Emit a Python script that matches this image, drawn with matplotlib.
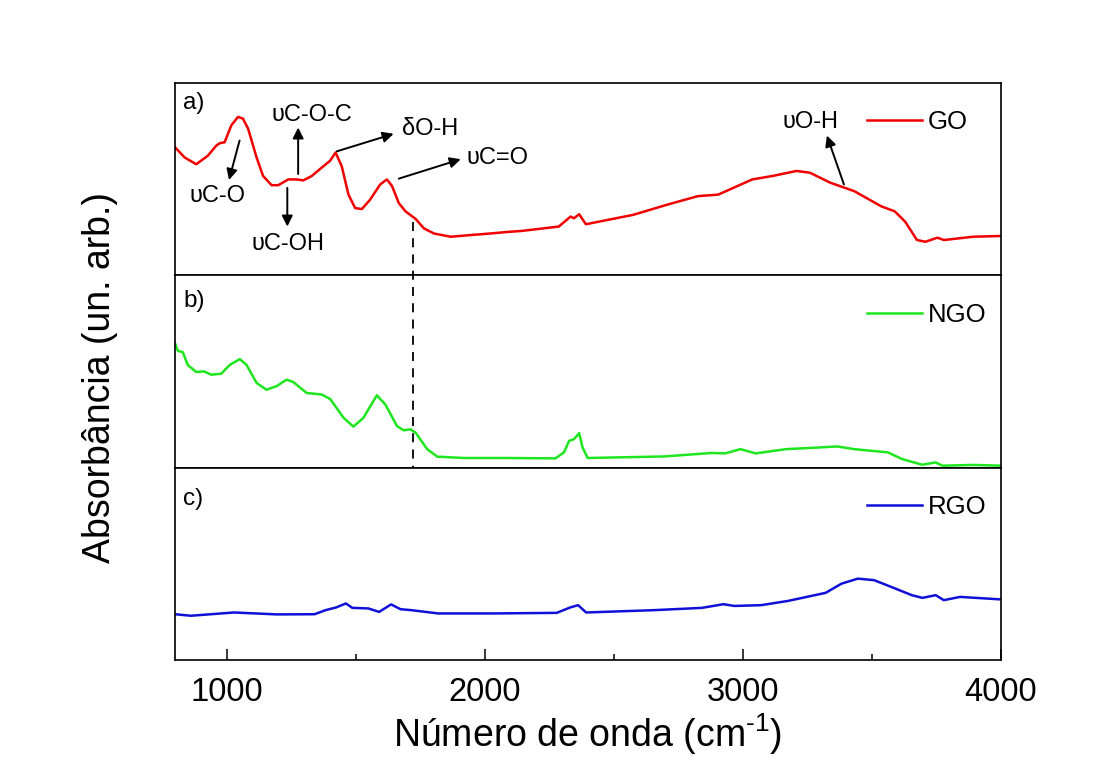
import matplotlib
matplotlib.use("Agg")
import matplotlib.pyplot as plt
from matplotlib.lines import Line2D
from matplotlib.transforms import blended_transform_factory

plt.rcParams['font.family'] = ['Liberation Sans', 'DejaVu Sans']
plt.rcParams['mathtext.fontset'] = 'custom'
plt.rcParams['mathtext.rm'] = 'Liberation Sans'

# ------------------------------------------
# DATOS (número de onda en cm-1, absorbância em unidades arbitrárias)
# ------------------------------------------
go_wn = [800, 837, 882, 927, 960, 973, 992, 1018, 1044, 1063, 1083, 1116, 1141,
         1174, 1200, 1239, 1271, 1297, 1330, 1368, 1401, 1422, 1446, 1472, 1498,
         1524, 1556, 1595, 1621, 1641, 1667, 1693, 1732, 1764, 1803, 1868, 1946,
         2023, 2088, 2142, 2287, 2333, 2346, 2366, 2392, 2576, 2708, 2826, 2905,
         3037, 3116, 3208, 3260, 3339, 3432, 3537, 3589, 3629, 3675, 3708, 3754,
         3780, 3892, 4000]
go_abs = [0.665, 0.612, 0.577, 0.621, 0.674, 0.686, 0.691, 0.779, 0.823, 0.814,
          0.762, 0.612, 0.516, 0.468, 0.468, 0.498, 0.498, 0.493, 0.516, 0.559,
          0.595, 0.638, 0.566, 0.419, 0.349, 0.344, 0.393, 0.472, 0.498, 0.463,
          0.375, 0.332, 0.293, 0.244, 0.217, 0.200, 0.209, 0.217, 0.225, 0.230,
          0.253, 0.305, 0.296, 0.317, 0.265, 0.314, 0.367, 0.411, 0.419, 0.498,
          0.516, 0.542, 0.533, 0.481, 0.437, 0.358, 0.332, 0.279, 0.183, 0.174,
          0.195, 0.183, 0.200, 0.204]

ngo_wn = [800, 811, 830, 849, 882, 912, 940, 979, 1012, 1051, 1077, 1116, 1154,
          1193, 1232, 1258, 1310, 1368, 1401, 1453, 1491, 1530, 1582, 1615, 1660,
          1686, 1712, 1732, 1777, 1816, 1919, 2088, 2274, 2307, 2327, 2346, 2366,
          2379, 2399, 2695, 2879, 2932, 2991, 3050, 3168, 3300, 3366, 3432, 3563,
          3616, 3695, 3747, 3774, 3892, 4000]
ngo_abs = [0.646, 0.607, 0.600, 0.534, 0.497, 0.500, 0.483, 0.488, 0.534, 0.564,
           0.534, 0.440, 0.405, 0.423, 0.457, 0.445, 0.388, 0.380, 0.357, 0.259,
           0.213, 0.259, 0.376, 0.328, 0.216, 0.194, 0.199, 0.182, 0.096, 0.057,
           0.050, 0.050, 0.048, 0.079, 0.139, 0.148, 0.179, 0.105, 0.050, 0.058,
           0.076, 0.074, 0.096, 0.074, 0.096, 0.105, 0.110, 0.096, 0.079, 0.045,
           0.015, 0.027, 0.010, 0.014, 0.010]

rgo_wn = [800, 861, 1028, 1195, 1341, 1383, 1424, 1462, 1487, 1549, 1591, 1637,
          1674, 1716, 1820, 2029, 2279, 2331, 2362, 2393, 2654, 2842, 2925, 2967,
          3071, 3175, 3321, 3383, 3446, 3509, 3592, 3655, 3696, 3748, 3779, 3842,
          4000]
rgo_abs = [0.238, 0.230, 0.247, 0.237, 0.238, 0.259, 0.273, 0.294, 0.271, 0.268,
           0.250, 0.289, 0.264, 0.259, 0.242, 0.242, 0.245, 0.273, 0.285, 0.247,
           0.259, 0.271, 0.290, 0.281, 0.285, 0.307, 0.349, 0.397, 0.423, 0.415,
           0.371, 0.337, 0.323, 0.337, 0.311, 0.328, 0.315]

amostras = ['GO', 'NGO', 'RGO']
paineis = ['a)', 'b)', 'c)']
cores = ['#f00000', '#1ee61e', '#1010d8']

# posição (cm-1) da banda C=O marcada com a linha tracejada
banda_co = 1724

# ------------------------------------------
# FIGURA
# ------------------------------------------
fig = plt.figure(figsize=(11.01, 7.67), dpi=100)
left, right, top, bottom = 0.159, 0.909, 0.892, 0.1395
h = (top - bottom) / 3
axes = []
for i in range(3):
    ax = fig.add_axes([left, top - (i + 1) * h, right - left, h])
    axes.append(ax)

series = [(go_wn, go_abs), (ngo_wn, ngo_abs), (rgo_wn, rgo_abs)]
label_y = [0.895, 0.866, 0.839]

for ax, (wn, ab), nome, painel, cor, ly in zip(axes, series, amostras, paineis, cores, label_y):
    ax.plot(wn, ab, color=cor, lw=1.8, label=nome, solid_joinstyle='round')
    ax.set_xlim(800, 4000)
    ax.set_ylim(0, 1)
    ax.set_yticks([])
    for s in ax.spines.values():
        s.set_linewidth(1.2)
    ax.text(0.010, ly, painel, transform=ax.transAxes, fontsize=17.5, va='center')
    ax.legend(frameon=False, loc='center left', bbox_to_anchor=(0.838, 0.795),
              borderpad=0, borderaxespad=0, handlelength=2.15, handletextpad=0.2,
              fontsize=18.5)
    if ax is not axes[-1]:
        ax.set_xticks([])

# eixo inferior com ticks para dentro
axb = axes[-1]
axb.set_xticks([1000, 2000, 3000, 4000])
axb.set_xticks([1500, 2500, 3500], minor=True)
axb.tick_params(axis='x', which='major', direction='in', length=8, width=1.1,
                labelsize=23.5, pad=12, top=False)
axb.tick_params(axis='x', which='minor', direction='in', length=4.5, width=1.1,
                top=False)

fig.text(0.534, 0.043, r'Número de onda (cm$^{\text{-1}}$)', fontsize=27,
         ha='center', va='center')
fig.text(0.091, 0.508, 'Absorbância (un. arb.)', fontsize=27, rotation=90,
         ha='center', va='center')

# ------------------------------------------
# ANOTAÇÕES DAS BANDAS (painel a)
# ------------------------------------------
ax = axes[0]
seta = dict(arrowstyle='-|>', color='k', lw=1.4, mutation_scale=16,
            shrinkA=0, shrinkB=0)
fs = 17

ax.annotate('', xy=(1009, 0.495), xytext=(1050, 0.700), arrowprops=seta)
ax.text(965, 0.411, 'υC-O', fontsize=fs, ha='center', va='center')

ax.annotate('', xy=(1277, 0.768), xytext=(1277, 0.526), arrowprops=seta)
ax.text(1331, 0.832, 'υC-O-C', fontsize=fs, ha='center', va='center')

ax.annotate('', xy=(1235, 0.253), xytext=(1235, 0.454), arrowprops=seta)
ax.text(1237, 0.163, 'υC-OH', fontsize=fs, ha='center', va='center')

ax.annotate('', xy=(1647, 0.735), xytext=(1427, 0.644), arrowprops=seta)
ax.text(1681, 0.758, 'δO-H', fontsize=fs, ha='left', va='center')

ax.annotate('', xy=(1907, 0.603), xytext=(1667, 0.502), arrowprops=seta)
ax.text(1930, 0.610, 'υC=O', fontsize=fs, ha='left', va='center')

ax.annotate('', xy=(3326, 0.726), xytext=(3392, 0.472), arrowprops=seta)
ax.text(3261, 0.796, 'υO-H', fontsize=fs, ha='center', va='center')

# linha tracejada da banda C=O atravessando os painéis a) e b)
trans = blended_transform_factory(axes[0].transData, fig.transFigure)
fig.add_artist(Line2D([banda_co, banda_co], [1 - 222 / 767, 1 - 467 / 767],
                      transform=trans, color='k', lw=1.3, ls=(0, (5, 4))))

fig.savefig('out.png', dpi=100)
plt.close(fig)
